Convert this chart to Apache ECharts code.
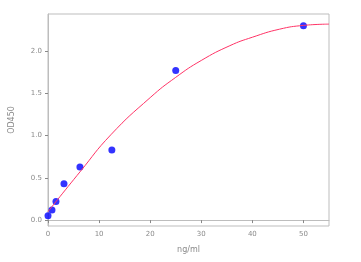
<!DOCTYPE html>
<html><head><meta charset="utf-8">
<script src="https://cdn.jsdelivr.net/npm/echarts@6/dist/echarts.min.js"></script>
<style>html,body{margin:0;padding:0;background:#fff}#c{width:361px;height:262px}</style>
</head><body><div id="c"></div>
<script>
// Measured standard points
const concX = [0, 0.78, 1.56, 3.125, 6.25, 12.5, 25, 50];
const odY = [0.05, 0.12, 0.22, 0.43, 0.63, 0.83, 1.77, 2.30];
// Fitted curve
const curveX = [0, 6.25, 12.3, 20, 25, 30, 35.6, 40, 45.3, 50, 55];
const curveY = [0.10, 0.57, 1.01, 1.45, 1.69, 1.89, 2.065, 2.165, 2.26, 2.305, 2.32];
// Tick labels
const xTicks = [0, 10, 20, 30, 40, 50];
const yTicks = [0, 0.5, 1.0, 1.5, 2.0];

const grey = '#bdbdbd';
const labelColor = '#8a8a8a';
const chart = echarts.init(document.getElementById('c'), null, {renderer: 'canvas'});
chart.setOption({
  animation: false,
  grid: {left: 46, right: 32, top: 14, bottom: 36, show: true, borderColor: grey, borderWidth: 1},
  xAxis: {
    type: 'value', min: 0, max: 55,
    name: 'ng/ml', nameLocation: 'middle', nameGap: 20,
    nameTextStyle: {color: labelColor, fontSize: 8, fontFamily: 'DejaVu Sans'},
    axisLine: {show: true, lineStyle: {color: grey}},
    axisTick: {show: true, length: 3, lineStyle: {color: '#888'}, customValues: xTicks},
    axisLabel: {color: labelColor, fontSize: 7, fontFamily: 'DejaVu Sans', margin: 5, customValues: xTicks},
    splitLine: {show: false}
  },
  yAxis: {
    type: 'value', min: -0.07, max: 2.44,
    name: 'OD450', nameLocation: 'middle', nameGap: 32, nameRotate: 90,
    nameTextStyle: {color: labelColor, fontSize: 8, fontFamily: 'DejaVu Sans'},
    axisLine: {show: true, lineStyle: {color: grey}},
    axisTick: {show: true, length: 3, lineStyle: {color: '#888'}, customValues: yTicks},
    axisLabel: {color: labelColor, fontSize: 7, fontFamily: 'DejaVu Sans', margin: 6,
      customValues: yTicks, formatter: v => v.toFixed(1)},
    splitLine: {show: false}
  },
  series: [
    {
      type: 'line', data: curveX.map((x, i) => [x, curveY[i]]),
      smooth: 0.5, showSymbol: false, symbol: 'none',
      lineStyle: {color: '#ff3366', width: 1}, z: 3
    },
    {
      type: 'scatter', data: concX.map((x, i) => [x, odY[i]]),
      symbolSize: 7, itemStyle: {color: '#0000ff'}, z: 2
    }
  ]
});
</script></body></html>
